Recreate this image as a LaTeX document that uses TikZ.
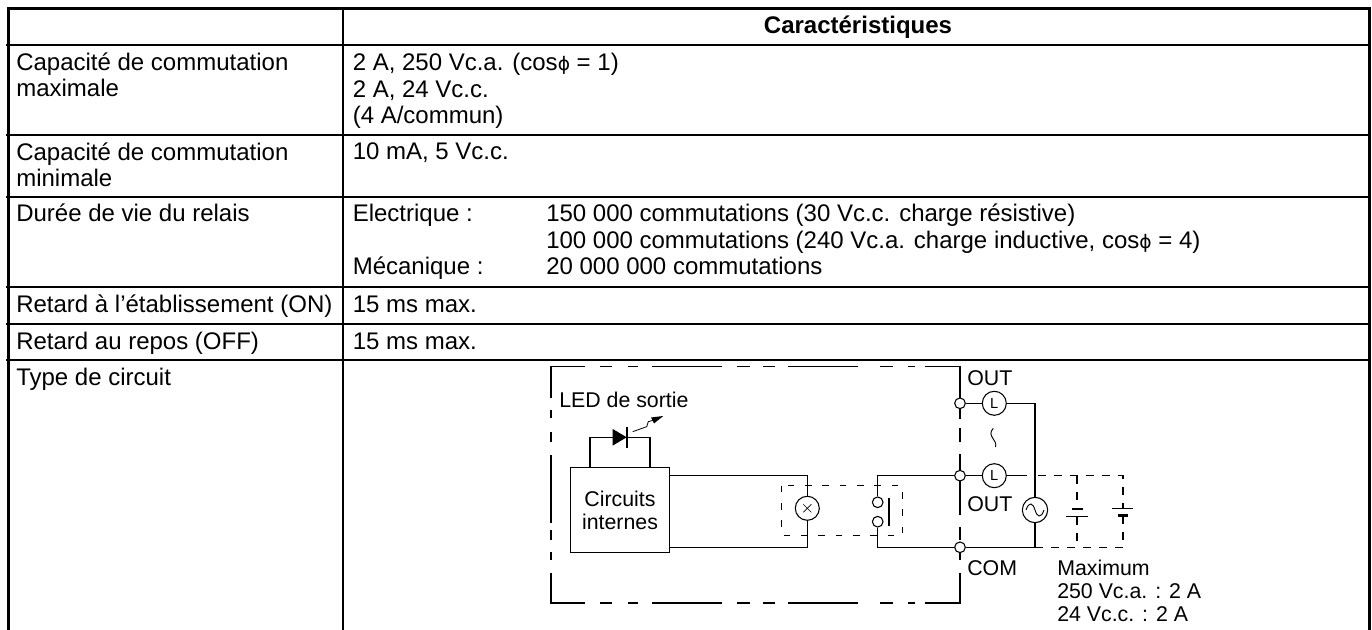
\documentclass[tikz,border=0pt]{standalone}
\usepackage{fontspec}
\setmainfont{Liberation Sans}
\newfontfamily\phifont{DejaVu Sans}
\newcommand{\cosphi}{cos{\phifont\fontsize{14}{20}\selectfont ϕ}}
\tikzset{
  rule/.style={line width=1.5pt},
  cell/.style={anchor=base west,inner sep=0pt,align=left,font=\fontsize{18}{20}\selectfont},
  sketchtext/.style={anchor=base west,inner sep=0pt,align=left,font=\fontsize{16}{17.3}\selectfont},
  wire/.style={line width=0.9pt},
  boxline/.style={line width=0.8pt},
  shortdash/.style={line width=0.7pt,dash pattern=on 5pt off 8pt},
  dcdash/.style={line width=0.8pt,dash pattern=on 6pt off 6pt},
  terminal/.style={circle,draw,fill=white,line width=0.8pt,minimum size=8pt,inner sep=0pt},
  lamp/.style={circle,draw,fill=white,line width=0.8pt,minimum size=18pt,inner sep=0pt,font=\fontsize{11}{12}\selectfont},
}
\begin{document}
\begin{tikzpicture}[x=0.75pt,y=0.75pt,yscale=-1,xscale=1]
\useasboundingbox (0,0) rectangle (1372,630);

%Table rules
\draw [line width=2pt] (7,8.5) -- (1371,8.5);
\draw [line width=1.7pt] (6,45) -- (1371,45);
\draw [rule] (6,135) -- (1371,135);
\draw [rule] (6,197) -- (1371,197);
\draw [rule] (6,287) -- (1371,287);
\draw [rule] (6,324) -- (1371,324);
\draw [rule] (6,360) -- (1371,360);
\draw [line width=2.5pt] (8.3,8) -- (8.3,630);
\draw [rule] (343,8) -- (343,630);
\draw [line width=2.5pt] (1369.5,8) -- (1369.5,630);

% Text Node
\node (head) [cell,anchor=base,font=\fontsize{18}{20}\selectfont\bfseries] at (858,34) {Caractéristiques};
% Text Node
\node (capmax) [cell] at (16,97) {Capacité de commutation\\maximale};
\node (capmaxval) [cell] at (352.5,124) {2 A, 250 Vc.a. (\cosphi{} = 1)\\2 A, 24 Vc.c.\\(4 A/commun)};
% Text Node
\node (capmin) [cell] at (16,187) {Capacité de commutation\\minimale};
\node (capminval) [cell] at (352.5,160) {10 mA, 5 Vc.c.};
% Text Node
\node (life) [cell] at (16,222) {Durée de vie du relais};
\node (lifekind) [cell] at (352.5,275) {Electrique :\\[20pt]Mécanique :};
\node (lifeval) [cell] at (546,275) {150 000 commutations (30 Vc.c. charge résistive)\\100 000 commutations (240 Vc.a. charge inductive, \cosphi{} = 4)\\20 000 000 commutations};
% Text Node
\node (ondelay) [cell] at (16,313) {Retard à l’établissement (ON)};
\node (ondelayval) [cell] at (352.5,313) {15 ms max.};
% Text Node
\node (offdelay) [cell] at (16,350) {Retard au repos (OFF)};
\node (offdelayval) [cell] at (352.5,350) {15 ms max.};
% Text Node
\node (circuit) [cell] at (16,386) {Type de circuit};

%Outer dashed box
\draw [boxline] (551,398) -- (551,366.7) -- (585,366.7) (600,366.7) -- (612,366.7) (628,366.7) -- (638,366.7) (652,366.7) -- (722,366.7) (737,366.7) -- (750,366.7) (763,366.7) -- (775,366.7) (788,366.7) -- (858,366.7) (880,366.7) -- (893,366.7) (908,366.7) -- (915,366.7) (925,366.7) -- (960,366.7) -- (960,398);
\draw [boxline] (551,573) -- (551,603) -- (585,603) (600,603) -- (612,603) (628,603) -- (638,603) (652,603) -- (722,603) (737,603) -- (750,603) (763,603) -- (775,603) (788,603) -- (858,603) (880,603) -- (893,603) (908,603) -- (915,603) (925,603) -- (960,603) -- (960,573);
\draw [boxline] (551,410) -- (551,418) (551,432) -- (551,442) (551,455) -- (551,523) (551,530) -- (551,540) (551,552) -- (551,560);
\draw [boxline] (960,407) -- (960,419) (960,428) -- (960,442) (960,454) -- (960,515) (960,527) -- (960,540) (960,552) -- (960,560);

%Inner dashed box
\draw [shortdash] (781.7,485.7) rectangle (902.7,535.7);

%Internal circuits and LED
\node (internal) [draw,wire,minimum width=74pt,minimum height=63.5pt,inner sep=0pt,align=center,font=\fontsize{16}{17.3}\selectfont] at (620,510) {Circuits\\internes};
\coordinate (ledl) at (590,467.7);
\coordinate (ledr) at (650,467.7);
\coordinate (ledtip) at (626.7,437.3);
\draw [wire] (ledl) |- (ledtip) -| (ledr);
\fill (612.7,429) -- (ledtip) -- (612.7,445.6) -- cycle;
\draw [line width=1.5pt] (626.7,427) -- (626.7,448);
\draw [line width=0.6pt] (632.7,431.7) -- (646.7,426.7) -- (648.3,421.7) -- (654,420);
\fill (663.3,416) -- (651,417.5) -- (654,423.5) -- cycle;
\node (ledtext) [sketchtext] at (559,408) {LED de sortie};

%Coil
\node (coil) [lamp] at (807.3,508.3) {};
\draw [line width=0.5pt,shift={(coil.center)}] (-4,-4) -- (4,4) (-4,4) -- (4,-4);
\coordinate (coiltop) at (807.3,475.3);
\coordinate (coilbot) at (807.3,547.3);
\draw [wire] (coil) -- (coiltop) -- (coiltop -| internal.east);
\draw [wire] (coil) -- (coilbot) -- (coilbot -| internal.east);

%Contact
\node (contacta) [terminal] at (877.7,502.3) {};
\node (contactb) [terminal] at (877.7,521.7) {};
\draw [line width=1.8pt] (889,498) -- (889,525.7);

%Terminals and loads
\node (terma) [terminal] at (960,403.3) {};
\node (termb) [terminal] at (960,475.7) {};
\node (termc) [terminal] at (960,547.3) {};
\node (lampa) [lamp] at (994.3,403.3) {L};
\node (lampb) [lamp] at (994.3,475.7) {L};
\node (acsrc) [lamp,minimum size=19pt] at (1035,510) {};
\draw [line width=0.7pt,shift={(acsrc.center)}] (-9,0) .. controls (-6,-9) and (-2,-7) .. (0,0) .. controls (2,7) and (6,9) .. (9,0);
\coordinate (acbot) at (1035,547.3);
\coordinate (lampend) at (1026.7,475.7);
\draw [wire] (contacta) |- (termb);
\draw [wire] (contactb) |- (termc);
\draw [wire] (terma) -- (lampa);
\draw [wire] (termb) -- (lampb);
\draw [wire] (lampb) -- (lampend);
\draw [wire] (lampa) -| (acsrc);
\draw [wire] (acsrc) -- (acbot) -- (termc);
\draw [line width=0.7pt] (993.3,428.3) .. controls (986,436) and (998,440) .. (995.5,447);

%DC alternative
\coordinate (dcstart) at (1038,475.7);
\coordinate (dcmid) at (1077,475.7);
\coordinate (dcend) at (1123,475.7);
\coordinate (dcbotmid) at (1077,547.3);
\coordinate (dcbotend) at (1123,547.3);
\draw [dcdash] (dcstart) -- (dcend) -- (1123,508.3);
\draw [dcdash] (1123,515.7) -- (dcbotend) -- (acbot);
\draw [dcdash] (dcmid) -- (1077,509);
\draw [dcdash] (1077,516.7) -- (dcbotmid);
\draw [line width=1.8pt] (1071.7,509) -- (1083.3,509);
\draw [line width=0.7pt] (1066,516.7) -- (1088.3,516.7);
\draw [line width=0.7pt] (1111.7,508.3) -- (1133.3,508.3);
\draw [line width=1.8pt] (1117.7,515.7) -- (1127.7,515.7);

% Text Node
\node (outa) [sketchtext] at (967,386) {OUT};
% Text Node
\node (outb) [sketchtext] at (967,511.7) {OUT};
% Text Node
\node (com) [sketchtext] at (967,576) {COM};
% Text Node
\node (maxi) [sketchtext] at (1057,622) {Maximum\\250 Vc.a. : 2 A\\24 Vc.c. : 2 A};

\end{tikzpicture}
\end{document}
